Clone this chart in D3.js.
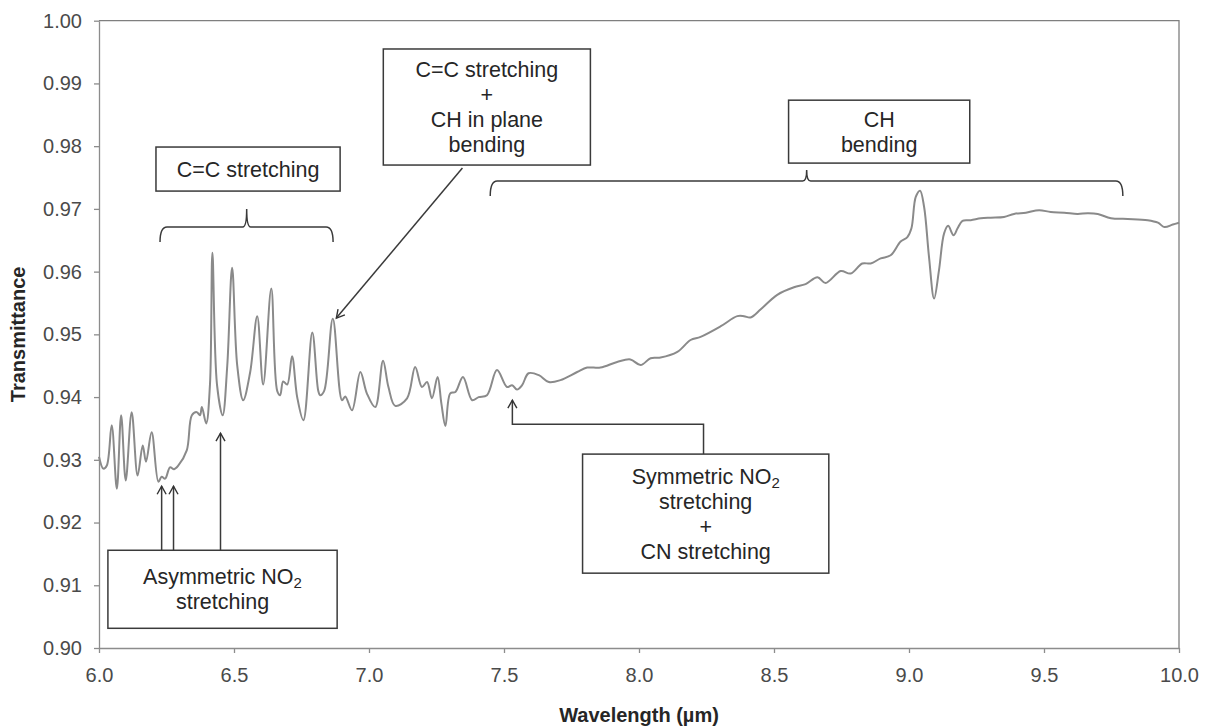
<!DOCTYPE html>
<html><head><meta charset="utf-8">
<script src="https://cdn.jsdelivr.net/npm/d3@7"></script>
<style>
body{margin:0;background:#fff}
svg{display:block;font-family:"Liberation Sans",Arial,sans-serif}
</style>
</head><body>
<svg id="chart" width="1217" height="726"></svg>
<script>
// ---- data ----
const wavelength = [6.000,6.016,6.029,6.047,6.066,6.082,6.099,6.121,6.143,6.162,6.174,6.195,6.220,6.232,6.245,6.263,6.278,6.294,6.325,6.344,6.362,6.374,6.381,6.397,6.411,6.420,6.437,6.458,6.475,6.493,6.512,6.534,6.560,6.586,6.608,6.638,6.660,6.671,6.682,6.697,6.715,6.734,6.757,6.790,6.812,6.819,6.834,6.866,6.900,6.912,6.937,6.968,6.992,7.023,7.052,7.072,7.097,7.141,7.171,7.196,7.215,7.233,7.254,7.268,7.283,7.301,7.320,7.348,7.382,7.406,7.437,7.474,7.511,7.530,7.548,7.567,7.591,7.629,7.666,7.709,7.771,7.808,7.857,7.919,7.968,8.006,8.043,8.080,8.142,8.191,8.228,8.303,8.364,8.389,8.413,8.451,8.512,8.574,8.617,8.661,8.691,8.747,8.784,8.827,8.858,8.895,8.932,8.969,8.994,9.009,9.025,9.041,9.056,9.074,9.093,9.111,9.130,9.145,9.165,9.180,9.198,9.229,9.266,9.303,9.352,9.389,9.433,9.482,9.525,9.575,9.624,9.661,9.699,9.748,9.810,9.884,9.922,9.946,9.977,10.000];
const transmittance = [0.9305,0.9286,0.9291,0.9355,0.9254,0.9371,0.9267,0.9376,0.9275,0.9323,0.9297,0.9344,0.9265,0.9273,0.9270,0.9288,0.9285,0.9291,0.9315,0.9371,0.9376,0.9371,0.9384,0.9358,0.9420,0.9630,0.9420,0.9371,0.9450,0.9606,0.9450,0.9395,0.9440,0.9529,0.9420,0.9573,0.9410,0.9403,0.9425,0.9420,0.9465,0.9400,0.9363,0.9503,0.9410,0.9403,0.9410,0.9525,0.9395,0.9401,0.9379,0.9440,0.9406,0.9384,0.9458,0.9416,0.9386,0.9398,0.9448,0.9416,0.9424,0.9398,0.9432,0.9390,0.9354,0.9406,0.9408,0.9432,0.9395,0.9400,0.9403,0.9443,0.9416,0.9419,0.9412,0.9419,0.9438,0.9435,0.9424,0.9427,0.9440,0.9447,0.9447,0.9456,0.9460,0.9451,0.9462,0.9463,0.9472,0.9491,0.9496,0.9513,0.9529,0.9529,0.9527,0.9540,0.9563,0.9575,0.9580,0.9591,0.9582,0.9601,0.9597,0.9613,0.9613,0.9621,0.9626,0.9648,0.9655,0.9669,0.9719,0.9729,0.9703,0.9624,0.9557,0.9602,0.9661,0.9673,0.9658,0.9669,0.9681,0.9682,0.9685,0.9686,0.9687,0.9692,0.9694,0.9698,0.9695,0.9694,0.9692,0.9693,0.9692,0.9685,0.9684,0.9682,0.9678,0.9671,0.9675,0.9678];
const xTickValues = [6.0,6.5,7.0,7.5,8.0,8.5,9.0,9.5,10.0];
const yTickValues = [0.90,0.91,0.92,0.93,0.94,0.95,0.96,0.97,0.98,0.99,1.00];
const xTitle = "Wavelength (µm)";
const yTitle = "Transmittance";

// ---- layout ----
const W = 1217, H = 726;
const plot = {left: 99, right: 1179, top: 20.7, bottom: 648};
const x = d3.scaleLinear().domain([6, 10]).range([plot.left, plot.right]);
const y = d3.scaleLinear().domain([0.90, 1.00]).range([plot.bottom, plot.top]);

const svg = d3.select("#chart");
svg.append("rect").attr("width", W).attr("height", H).attr("fill", "#fff");

const defs = svg.append("defs");
defs.append("marker").attr("id", "arr").attr("viewBox", "-10 -6 12 12")
  .attr("refX", 0).attr("refY", 0).attr("markerWidth", 12).attr("markerHeight", 12)
  .attr("markerUnits", "userSpaceOnUse").attr("orient", "auto")
  .append("path").attr("d", "M-8,-4.5 L0,0 L-8,4.5").attr("fill", "none")
  .attr("stroke", "#333").attr("stroke-width", 1.4);

// plot frame (top/right)
svg.append("path")
  .attr("d", `M${plot.left},${plot.top}H${plot.right}V${plot.bottom}`)
  .attr("fill", "none").attr("stroke", "#7f7f7f").attr("stroke-width", 1.3);

// axes
const axisColor = "#8c8c8c", labelColor = "#4a4a4a";
const gx = svg.append("g").attr("transform", `translate(0,${plot.bottom})`)
  .call(d3.axisBottom(x).tickValues(xTickValues).tickFormat(d3.format(".1f"))
    .tickSize(5).tickSizeOuter(0).tickPadding(15));
const gy = svg.append("g").attr("transform", `translate(${plot.left},0)`)
  .call(d3.axisLeft(y).tickValues(yTickValues).tickFormat(d3.format(".2f"))
    .tickSize(5).tickSizeOuter(0).tickPadding(12));
[gx, gy].forEach(g => {
  g.selectAll(".domain, line").attr("stroke", axisColor).attr("stroke-width", 1.3);
  g.selectAll("text").attr("fill", labelColor).attr("font-size", 20)
    .attr("font-family", "'Liberation Sans', Arial, sans-serif");
});

svg.append("text").attr("x", (plot.left + plot.right) / 2).attr("y", 722)
  .attr("text-anchor", "middle").attr("font-weight", "bold").attr("font-size", 20)
  .attr("fill", "#262626").text(xTitle);
svg.append("text").attr("transform", `translate(25,${(plot.top + plot.bottom) / 2}) rotate(-90)`)
  .attr("text-anchor", "middle").attr("font-weight", "bold").attr("font-size", 20)
  .attr("fill", "#262626").text(yTitle);

// spectrum line
const pts = wavelength.map((w, i) => [w, transmittance[i]]);
svg.append("path").datum(pts)
  .attr("d", d3.line().x(d => x(d[0])).y(d => y(d[1])).curve(d3.curveCatmullRom.alpha(0.5)))
  .attr("fill", "none").attr("stroke", "#8a8a8a").attr("stroke-width", 2).attr("stroke-linejoin", "round");

// ---- annotations (anchored in data units) ----
const ink = "#3a3a3a";
function box(x0, x1, y0, y1, lines) {
  const g = svg.append("g");
  g.append("rect").attr("x", x(x0)).attr("y", y(y0)).attr("width", x(x1) - x(x0)).attr("height", y(y1) - y(y0))
    .attr("fill", "#fff").attr("stroke", ink).attr("stroke-width", 1.5);
  const cx = (x(x0) + x(x1)) / 2, cy = (y(y0) + y(y1)) / 2, lh = 25;
  lines.forEach((ln, i) => {
    const t = g.append("text").attr("x", cx).attr("y", cy + (i - (lines.length - 1) / 2) * lh)
      .attr("dy", "0.35em").attr("text-anchor", "middle").attr("font-size", 21.5).attr("fill", "#262626");
    ln.forEach(part => {
      if (typeof part === "object") t.append("tspan").attr("font-size", 15).attr("dy", 4).text(part.sub);
      else t.append("tspan").text(part);
    });
  });
}
function brace(x0, x1, yl, yEnd, yTip, xm) {
  const X0 = x(x0), X1 = x(x1), Y = y(yl), YE = y(yEnd), YT = y(yTip), XM = x(xm);
  svg.append("path").attr("d",
    `M${X0},${YE} Q${X0},${Y} ${X0 + 7},${Y} H${XM - 4} Q${XM},${Y} ${XM},${YT} Q${XM},${Y} ${XM + 4},${Y} H${X1 - 7} Q${X1},${Y} ${X1},${YE}`)
    .attr("fill", "none").attr("stroke", ink).attr("stroke-width", 1.5);
}
function arrow(pts) {
  svg.append("path").attr("d", d3.line().x(d => x(d[0])).y(d => y(d[1]))(pts))
    .attr("fill", "none").attr("stroke", ink).attr("stroke-width", 1.5).attr("marker-end", "url(#arr)");
}

// C=C stretching
box(6.211, 6.893, 0.97986, 0.97284, [["C=C stretching"]]);
brace(6.226, 6.867, 0.96710, 0.96471, 0.96997, 6.547);

// C=C stretching + CH in plane bending
box(7.053, 7.820, 0.99549, 0.97699, [["C=C stretching"], ["+"], ["CH in plane"], ["bending"]]);
arrow([[7.346, 0.97651], [6.879, 0.95259]]);

// CH bending
box(8.554, 9.225, 0.98733, 0.97730, [["CH"], ["bending"]]);
brace(7.449, 9.792, 0.97443, 0.97204, 0.97619, 8.621);

// Symmetric NO2 stretching + CN stretching
box(7.791, 8.703, 0.93091, 0.91193, [["Symmetric NO", {sub: "2"}], ["stretching"], ["+"], ["CN stretching"]]);
arrow([[8.239, 0.93091], [8.239, 0.93568], [7.531, 0.93568], [7.531, 0.93951]]);

// Asymmetric NO2 stretching
box(6.033, 6.882, 0.91558, 0.90314, [["Asymmetric NO", {sub: "2"}], ["stretching"]]);
arrow([[6.232, 0.91558], [6.232, 0.92579]]);
arrow([[6.276, 0.91558], [6.276, 0.92579]]);
arrow([[6.450, 0.91558], [6.450, 0.93424]]);
</script>
</body></html>
